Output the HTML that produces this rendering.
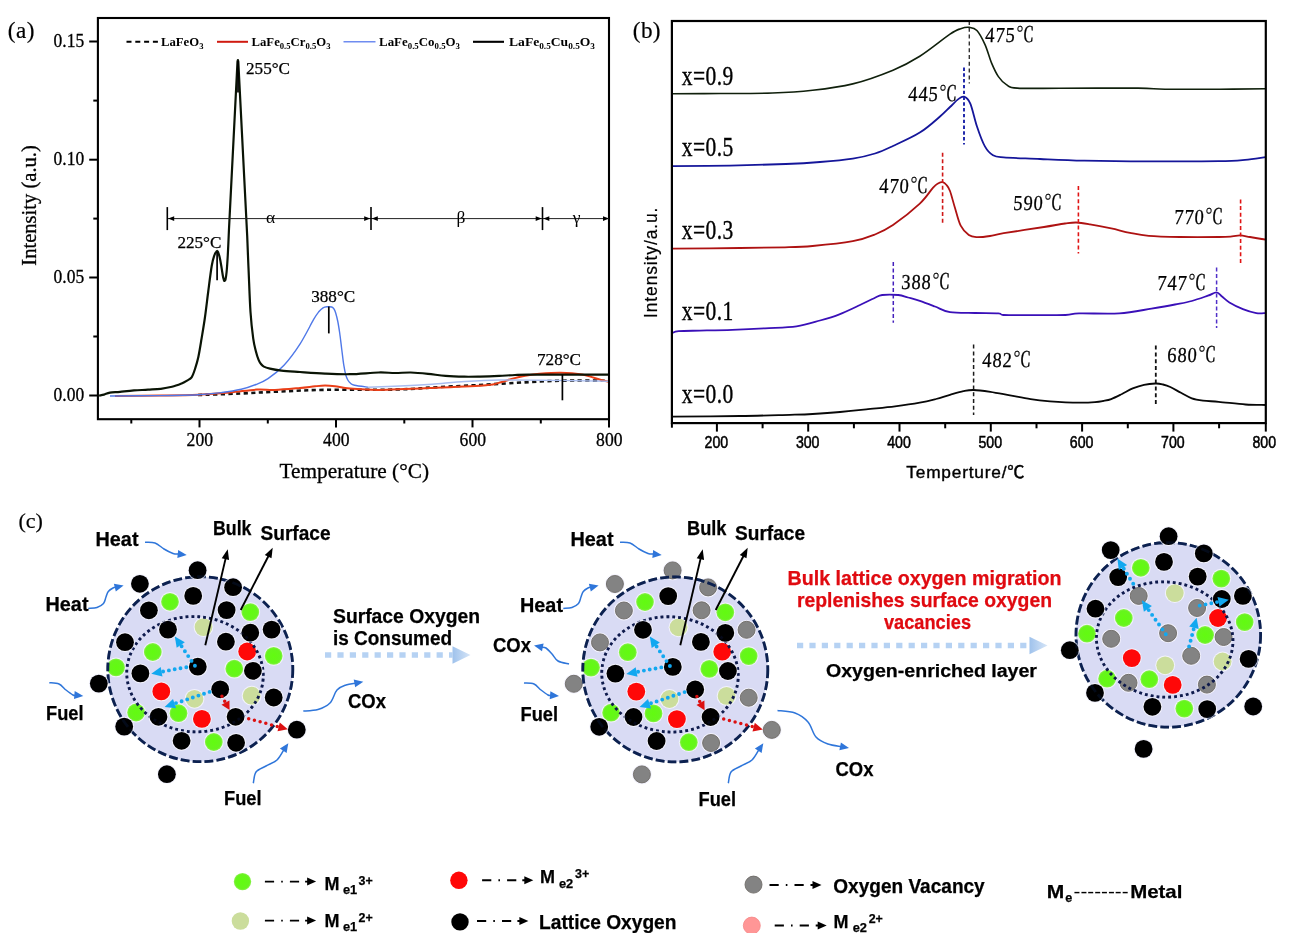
<!DOCTYPE html>
<html lang="en"><head><meta charset="utf-8"><title>Figure</title>
<style>html,body{margin:0;padding:0;background:#fff}body{width:1299px;height:933px;overflow:hidden}svg{display:block}</style>
</head><body>
<svg width="1299" height="933" viewBox="0 0 1299 933">
<defs><radialGradient id="gg" cx="50%" cy="50%" r="50%"><stop offset="0" stop-color="#62fb10"/><stop offset="0.8" stop-color="#66f51c"/><stop offset="1" stop-color="#8cf050"/></radialGradient>
<linearGradient id="ag" x1="0" x2="1" y1="0" y2="0"><stop offset="0" stop-color="#9fc2ec"/><stop offset="1" stop-color="#d6e5f7"/></linearGradient></defs>
<rect width="1299" height="933" fill="#fff"/>
<g id="pa">
<path d="M198.0 395.0C205.0 394.8 226.3 394.1 240.0 393.5C253.7 392.9 265.8 392.1 280.0 391.5C294.2 390.9 308.7 390.1 325.0 389.8C341.3 389.5 363.8 389.9 378.0 389.8C392.2 389.7 401.0 389.4 410.0 389.0C419.0 388.6 422.0 388.1 432.0 387.5C442.0 386.9 458.7 386.1 470.0 385.5C481.3 384.9 488.3 384.5 500.0 383.8C511.7 383.1 527.5 382.1 540.0 381.5C552.5 380.9 563.5 380.6 575.0 380.5C586.5 380.4 603.3 380.8 609.0 380.8" fill="none" stroke="#111" stroke-width="2.6" stroke-dasharray="4.2 3.4"/>
<path d="M115.0 396.0C122.5 395.9 146.2 395.7 160.0 395.5C173.8 395.3 186.3 395.2 198.0 394.7C209.7 394.2 220.2 393.4 230.0 392.5C239.8 391.6 249.5 390.0 257.0 389.6C264.5 389.2 267.8 390.3 275.0 390.0C282.2 389.7 293.3 388.6 300.0 388.0C306.7 387.4 310.8 386.7 315.0 386.3C319.2 385.9 321.7 385.6 325.0 385.6C328.3 385.6 330.8 385.8 335.0 386.3C339.2 386.8 342.7 387.9 350.0 388.5C357.3 389.1 364.9 390.0 378.6 389.9C392.3 389.8 414.1 388.8 432.0 388.0C449.9 387.2 474.7 386.2 486.0 385.3C497.3 384.4 495.6 383.6 500.0 382.5C504.4 381.4 508.4 379.7 512.6 378.6C516.8 377.5 520.5 376.6 525.0 375.8C529.5 375.0 533.4 374.3 539.4 373.8C545.4 373.3 553.7 372.6 560.8 372.7C567.9 372.8 575.3 373.4 582.0 374.6C588.7 375.8 596.5 378.8 601.0 380.0C605.5 381.2 607.7 381.5 609.0 381.8" fill="none" stroke="#ea3f18" stroke-width="2"/>
<path d="M110.0 396.0C118.3 395.9 145.3 395.8 160.0 395.6C174.7 395.4 188.0 395.2 198.3 394.7C208.6 394.2 214.8 393.4 222.0 392.5C229.2 391.6 235.5 390.6 241.2 389.3C246.9 388.0 251.5 386.3 256.0 384.5C260.5 382.7 263.3 381.8 268.0 378.6C272.7 375.4 278.6 371.0 284.0 365.2C289.4 359.4 295.2 351.4 300.1 343.8C305.0 336.2 310.4 325.1 313.5 319.7C316.6 314.3 317.4 313.5 319.0 311.5C320.6 309.5 321.7 308.6 323.0 307.8C324.3 307.0 325.6 306.9 327.0 306.8C328.4 306.7 330.5 306.6 331.7 307.0C332.9 307.4 333.3 308.0 334.0 309.0C334.7 310.0 335.1 311.0 335.7 313.0C336.3 315.0 337.0 317.7 337.7 321.0C338.4 324.3 339.0 328.3 339.7 333.0C340.4 337.7 341.0 343.6 341.7 349.0C342.4 354.4 343.1 360.9 343.8 365.2C344.5 369.5 345.1 372.5 345.8 375.0C346.5 377.5 347.0 378.6 347.8 380.0C348.6 381.4 349.7 382.6 350.8 383.5C351.9 384.4 351.6 384.7 354.5 385.3C357.4 385.9 365.7 386.9 367.9 387.2" fill="none" stroke="#4f78e8" stroke-width="1.4"/>
<path d="M367.9 387.2C373.2 387.0 389.3 386.5 400.0 386.0C410.7 385.5 421.2 384.9 432.0 384.2C442.8 383.4 453.8 382.2 465.0 381.5C476.2 380.8 486.5 380.2 499.0 380.0C511.5 379.8 521.7 380.0 540.0 380.2C558.3 380.4 597.5 381.1 609.0 381.3" fill="none" stroke="#a9bdf0" stroke-width="1.4"/>
<path d="M99.1 395.6C99.9 395.4 102.2 395.1 104.0 394.6C105.8 394.1 107.2 393.1 109.9 392.6C112.6 392.1 116.0 392.2 120.0 391.8C124.0 391.4 129.3 390.8 134.0 390.4C138.7 390.0 143.5 390.0 148.0 389.7C152.5 389.4 156.8 389.3 160.8 388.8C164.8 388.3 168.4 387.7 172.0 386.8C175.6 385.9 179.7 384.2 182.2 383.2C184.7 382.2 185.4 381.6 187.0 380.6C188.6 379.6 190.3 379.2 191.6 377.3C192.9 375.4 193.9 372.4 195.0 369.0C196.1 365.6 197.2 362.2 198.3 357.2C199.4 352.2 200.4 345.7 201.5 339.0C202.6 332.3 203.9 325.0 205.0 317.0C206.1 309.0 207.2 299.5 208.3 291.0C209.4 282.5 210.7 271.9 211.7 266.0C212.7 260.1 213.5 257.9 214.3 255.5C215.1 253.1 215.9 252.3 216.4 251.6C216.9 250.8 217.1 251.1 217.2 251.0C217.3 251.1 217.6 250.8 218.0 251.8C218.4 252.8 219.0 254.6 219.6 257.0C220.2 259.4 220.8 262.9 221.3 266.0C221.8 269.1 222.4 273.1 222.8 275.5C223.2 277.9 223.7 279.4 224.0 280.3C224.3 281.2 224.4 280.9 224.7 280.8C224.9 280.7 225.2 281.0 225.5 279.5C225.8 278.0 226.2 276.1 226.6 272.0C227.0 267.9 227.4 262.2 227.8 255.0C228.2 247.8 228.8 233.1 229.0 228.7L237.5 61.5L237.9 60L238.3 61.5L247.2 236C247.4 241.3 247.9 255.3 248.5 268.0C249.1 280.7 249.7 300.3 250.5 312.0C251.3 323.7 252.3 331.9 253.2 338.4C254.1 344.9 254.9 347.4 255.8 351.0C256.7 354.6 257.7 357.7 258.6 359.9C259.5 362.1 260.1 362.9 261.0 364.0C261.9 365.1 262.4 365.8 263.9 366.6C265.4 367.4 267.1 367.9 270.0 368.6C272.9 369.3 276.4 370.0 281.4 370.6C286.4 371.2 292.7 371.5 300.0 372.0C307.3 372.5 316.7 373.2 325.0 373.6C333.3 374.0 341.1 374.4 350.0 374.2C358.9 374.0 371.1 372.7 378.6 372.5C386.1 372.3 389.6 373.0 395.0 373.0C400.4 373.0 405.2 372.4 410.7 372.5C416.2 372.6 422.2 373.2 428.0 373.8C433.8 374.4 439.6 375.4 445.6 375.9C451.7 376.4 458.6 376.6 464.3 376.7C470.0 376.8 474.2 376.7 480.0 376.6C485.8 376.5 493.4 376.2 499.2 375.9C505.0 375.6 510.1 375.2 515.0 375.0C519.9 374.8 521.1 374.7 528.6 374.6C536.1 374.5 546.6 374.6 560.0 374.6C573.4 374.6 600.8 374.6 609.0 374.6" fill="none" stroke="#0a1405" stroke-width="2.2" stroke-linejoin="round"/>
<line x1="238.0" y1="61.0" x2="238.0" y2="92.5" stroke="#000" stroke-width="1.7"/>
<line x1="217.1" y1="252.0" x2="217.1" y2="280.3" stroke="#000" stroke-width="1.7"/>
<line x1="328.8" y1="306.5" x2="328.8" y2="333.4" stroke="#000" stroke-width="1.7"/>
<line x1="562.4" y1="374.5" x2="562.4" y2="400.3" stroke="#000" stroke-width="1.7"/>
<rect x="97.9" y="18.0" width="511.1" height="401.2" fill="none" stroke="#000" stroke-width="2.1"/>
<line x1="89.2" y1="41.5" x2="97.9" y2="41.5" stroke="#000" stroke-width="2"/>
<line x1="89.2" y1="159.7" x2="97.9" y2="159.7" stroke="#000" stroke-width="2"/>
<line x1="89.2" y1="277.5" x2="97.9" y2="277.5" stroke="#000" stroke-width="2"/>
<line x1="89.2" y1="395.5" x2="97.9" y2="395.5" stroke="#000" stroke-width="2"/>
<line x1="93.3" y1="100.6" x2="97.9" y2="100.6" stroke="#000" stroke-width="2"/>
<line x1="93.3" y1="218.6" x2="97.9" y2="218.6" stroke="#000" stroke-width="2"/>
<line x1="93.3" y1="336.5" x2="97.9" y2="336.5" stroke="#000" stroke-width="2"/>
<line x1="199.5" y1="419.2" x2="199.5" y2="427.4" stroke="#000" stroke-width="2"/>
<line x1="336.0" y1="419.2" x2="336.0" y2="427.4" stroke="#000" stroke-width="2"/>
<line x1="472.5" y1="419.2" x2="472.5" y2="427.4" stroke="#000" stroke-width="2"/>
<line x1="609.0" y1="419.2" x2="609.0" y2="427.4" stroke="#000" stroke-width="2"/>
<line x1="131.3" y1="419.2" x2="131.3" y2="423.5" stroke="#000" stroke-width="2"/>
<line x1="267.8" y1="419.2" x2="267.8" y2="423.5" stroke="#000" stroke-width="2"/>
<line x1="404.3" y1="419.2" x2="404.3" y2="423.5" stroke="#000" stroke-width="2"/>
<line x1="540.8" y1="419.2" x2="540.8" y2="423.5" stroke="#000" stroke-width="2"/>
<text x="53.6" y="47.1" font-family='"Liberation Serif","Noto Serif CJK SC",serif' font-size="18.8" textLength="30.6" lengthAdjust="spacingAndGlyphs" stroke="#000" stroke-width="0.3">0.15</text>
<text x="53.6" y="165.3" font-family='"Liberation Serif","Noto Serif CJK SC",serif' font-size="18.8" textLength="30.6" lengthAdjust="spacingAndGlyphs" stroke="#000" stroke-width="0.3">0.10</text>
<text x="53.6" y="283.1" font-family='"Liberation Serif","Noto Serif CJK SC",serif' font-size="18.8" textLength="30.6" lengthAdjust="spacingAndGlyphs" stroke="#000" stroke-width="0.3">0.05</text>
<text x="53.6" y="401.1" font-family='"Liberation Serif","Noto Serif CJK SC",serif' font-size="18.8" textLength="30.6" lengthAdjust="spacingAndGlyphs" stroke="#000" stroke-width="0.3">0.00</text>
<text x="186.6" y="446" font-family='"Liberation Serif","Noto Serif CJK SC",serif' font-size="18.8" textLength="26.4" lengthAdjust="spacingAndGlyphs" stroke="#000" stroke-width="0.3">200</text>
<text x="323.1" y="446" font-family='"Liberation Serif","Noto Serif CJK SC",serif' font-size="18.8" textLength="26.4" lengthAdjust="spacingAndGlyphs" stroke="#000" stroke-width="0.3">400</text>
<text x="459.6" y="446" font-family='"Liberation Serif","Noto Serif CJK SC",serif' font-size="18.8" textLength="26.4" lengthAdjust="spacingAndGlyphs" stroke="#000" stroke-width="0.3">600</text>
<text x="596.1" y="446" font-family='"Liberation Serif","Noto Serif CJK SC",serif' font-size="18.8" textLength="26.4" lengthAdjust="spacingAndGlyphs" stroke="#000" stroke-width="0.3">800</text>
<text x="279.5" y="477.5" font-family='"Liberation Serif","Noto Serif CJK SC",serif' font-size="20.8" textLength="149.5" lengthAdjust="spacingAndGlyphs" stroke="#000" stroke-width="0.3">Temperature (°C)</text>
<text transform="translate(36.3,265.7) rotate(-90)" font-family='"Liberation Serif","Noto Serif CJK SC",serif' font-size="20.5" textLength="120.5" lengthAdjust="spacingAndGlyphs" stroke="#000" stroke-width="0.3">Intensity (a.u.)</text>
<text x="7.8" y="37.6" font-family='"Liberation Serif","Noto Serif CJK SC",serif' font-size="23.2" textLength="26.6" lengthAdjust="spacing" stroke="#000" stroke-width="0.2">(a)</text>
<line x1="126.5" y1="41.8" x2="159" y2="41.8" stroke="#000" stroke-width="2.1" stroke-dasharray="5 3.8"/>
<line x1="217" y1="41.8" x2="248" y2="41.8" stroke="#d01a10" stroke-width="2"/>
<line x1="343.5" y1="41.8" x2="375.5" y2="41.8" stroke="#6f8cf0" stroke-width="1.4"/>
<line x1="473" y1="41.8" x2="504" y2="41.8" stroke="#000" stroke-width="2.1"/>
<text x="161.0" y="46" font-family='"Liberation Serif","Noto Serif CJK SC",serif' font-size="12.5" font-weight="bold" textLength="42.5" lengthAdjust="spacingAndGlyphs"><tspan dy="0">LaFeO</tspan><tspan font-size="8.5" dy="2.6">3</tspan></text>
<text x="251.5" y="46" font-family='"Liberation Serif","Noto Serif CJK SC",serif' font-size="12.5" font-weight="bold" textLength="79.0" lengthAdjust="spacingAndGlyphs"><tspan dy="0">LaFe</tspan><tspan font-size="8.5" dy="2.6">0.5</tspan><tspan dy="-2.6">Cr</tspan><tspan font-size="8.5" dy="2.6">0.5</tspan><tspan dy="-2.6">O</tspan><tspan font-size="8.5" dy="2.6">3</tspan></text>
<text x="379.0" y="46" font-family='"Liberation Serif","Noto Serif CJK SC",serif' font-size="12.5" font-weight="bold" textLength="81.0" lengthAdjust="spacingAndGlyphs"><tspan dy="0">LaFe</tspan><tspan font-size="8.5" dy="2.6">0.5</tspan><tspan dy="-2.6">Co</tspan><tspan font-size="8.5" dy="2.6">0.5</tspan><tspan dy="-2.6">O</tspan><tspan font-size="8.5" dy="2.6">3</tspan></text>
<text x="509.0" y="46" font-family='"Liberation Serif","Noto Serif CJK SC",serif' font-size="12.5" font-weight="bold" textLength="86.0" lengthAdjust="spacingAndGlyphs"><tspan dy="0">LaFe</tspan><tspan font-size="8.5" dy="2.6">0.5</tspan><tspan dy="-2.6">Cu</tspan><tspan font-size="8.5" dy="2.6">0.5</tspan><tspan dy="-2.6">O</tspan><tspan font-size="8.5" dy="2.6">3</tspan></text>
<line x1="167.3" y1="218.6" x2="609" y2="218.6" stroke="#222" stroke-width="1"/>
<line x1="167.3" y1="207.1" x2="167.3" y2="230.1" stroke="#000" stroke-width="1.6"/>
<line x1="371.0" y1="207.1" x2="371.0" y2="230.1" stroke="#000" stroke-width="1.6"/>
<line x1="542.5" y1="207.1" x2="542.5" y2="230.1" stroke="#000" stroke-width="1.6"/>
<path d="M168.2 218.6 L174.2 216.3 L174.2 220.9 Z" fill="#000"/>
<path d="M370.2 218.6 L364.2 216.3 L364.2 220.9 Z" fill="#000"/>
<path d="M371.8 218.6 L377.8 216.3 L377.8 220.9 Z" fill="#000"/>
<path d="M541.7 218.6 L535.7 216.3 L535.7 220.9 Z" fill="#000"/>
<path d="M543.3 218.6 L549.3 216.3 L549.3 220.9 Z" fill="#000"/>
<path d="M609.0 218.6 L603.0 216.3 L603.0 220.9 Z" fill="#000"/>
<text x="270.5" y="223" text-anchor="middle" font-family='"Liberation Serif","Noto Serif CJK SC",serif' font-size="17.5">α</text>
<text x="461.0" y="223" text-anchor="middle" font-family='"Liberation Serif","Noto Serif CJK SC",serif' font-size="17.5">β</text>
<text x="576.5" y="223" text-anchor="middle" font-family='"Liberation Serif","Noto Serif CJK SC",serif' font-size="17.5">γ</text>
<text x="246.0" y="73.8" font-family='"Liberation Serif","Noto Serif CJK SC",serif' font-size="17" textLength="44" lengthAdjust="spacingAndGlyphs" stroke="#000" stroke-width="0.25">255°C</text>
<text x="177.4" y="248.0" font-family='"Liberation Serif","Noto Serif CJK SC",serif' font-size="17" textLength="44" lengthAdjust="spacingAndGlyphs" stroke="#000" stroke-width="0.25">225°C</text>
<text x="311.2" y="301.5" font-family='"Liberation Serif","Noto Serif CJK SC",serif' font-size="17" textLength="44" lengthAdjust="spacingAndGlyphs" stroke="#000" stroke-width="0.25">388°C</text>
<text x="537.0" y="365.2" font-family='"Liberation Serif","Noto Serif CJK SC",serif' font-size="17" textLength="44" lengthAdjust="spacingAndGlyphs" stroke="#000" stroke-width="0.25">728°C</text>
</g>
<g id="pb">
<path d="M671.9 93.8C679.9 93.8 703.2 93.6 720.0 93.5C736.8 93.4 757.0 93.5 772.4 93.0C787.8 92.5 799.2 91.8 812.6 90.3C826.0 88.8 839.4 87.2 852.8 83.9C866.2 80.6 881.8 74.8 893.0 70.2C904.2 65.6 910.3 62.3 919.8 56.3C929.3 50.3 943.2 38.8 950.0 34.2C956.8 29.6 957.5 29.8 960.7 28.7C963.9 27.6 966.6 27.1 969.3 27.4C972.0 27.7 974.3 27.7 976.9 30.5C979.5 33.3 982.4 38.9 984.9 44.3C987.4 49.7 989.4 57.7 991.6 63.1C993.9 68.5 995.9 73.0 998.4 76.6C1000.9 80.2 1003.3 82.7 1006.4 84.6C1009.5 86.5 1008.3 87.5 1017.2 88.1C1026.1 88.7 1039.9 88.3 1060.0 88.3C1080.1 88.3 1120.5 87.9 1138.0 88.1C1155.5 88.2 1151.3 89.0 1165.0 89.2C1178.7 89.4 1203.2 89.3 1220.0 89.2C1236.8 89.1 1258.1 88.8 1265.7 88.7" fill="none" stroke="#10200c" stroke-width="1.6"/>
<path d="M671.9 166.1C681.6 166.0 711.0 165.9 730.0 165.6C749.0 165.2 770.8 164.6 785.8 164.0C800.8 163.4 808.8 162.9 820.0 162.0C831.2 161.1 843.6 160.0 852.8 158.6C862.0 157.2 868.3 155.6 875.0 153.5C881.7 151.4 885.5 149.5 893.0 146.0C900.5 142.5 912.0 137.5 919.8 132.6C927.6 127.7 935.0 120.8 940.0 116.5C945.0 112.2 947.0 109.8 950.0 107.0C953.0 104.2 955.7 101.1 958.0 99.4C960.3 97.7 962.0 96.0 964.0 96.7C966.0 97.4 968.1 98.5 970.2 103.4C972.4 108.3 974.5 119.1 976.9 126.3C979.3 133.5 982.2 141.6 984.9 146.4C987.6 151.2 989.9 153.5 993.0 155.3C996.1 157.1 995.9 156.8 1003.7 157.4C1011.5 158.0 1026.6 158.4 1040.0 159.0C1053.4 159.6 1066.0 160.3 1084.3 160.7C1102.6 161.1 1127.6 161.3 1150.0 161.4C1172.4 161.5 1202.9 161.5 1218.7 161.2C1234.5 160.9 1237.2 160.5 1245.0 159.8C1252.8 159.1 1262.2 157.6 1265.7 157.2" fill="none" stroke="#15169a" stroke-width="1.8"/>
<path d="M671.9 248.7C683.2 248.6 721.1 248.2 740.0 248.0C758.9 247.8 772.9 247.6 785.0 247.3C797.1 247.0 801.3 247.0 812.6 246.0C823.9 245.0 842.4 243.1 852.8 241.2C863.2 239.3 868.3 237.2 875.0 234.5C881.7 231.8 885.5 230.2 893.0 225.1C900.5 219.9 913.1 209.8 919.8 203.6C926.5 197.3 930.0 191.0 933.1 187.6C936.2 184.2 936.9 184.1 938.5 183.2C940.1 182.3 941.2 181.9 942.5 182.2C943.8 182.5 945.2 183.5 946.5 185.0C947.8 186.5 948.6 187.2 950.0 191.0C951.4 194.8 953.2 202.2 955.0 208.0C956.8 213.8 958.4 221.2 960.7 225.7C963.0 230.2 966.1 233.2 968.8 235.1C971.5 237.0 973.4 237.0 976.9 237.2C980.4 237.3 985.5 236.7 990.0 236.0C994.5 235.3 994.7 234.7 1003.7 233.2C1012.7 231.7 1033.8 228.6 1044.0 227.0C1054.2 225.4 1059.6 224.2 1065.0 223.5C1070.4 222.8 1072.1 222.4 1076.3 222.5C1080.5 222.6 1084.2 223.3 1090.0 224.3C1095.8 225.3 1104.5 227.0 1111.2 228.4C1117.9 229.8 1123.7 231.6 1130.0 232.8C1136.3 234.1 1140.5 235.2 1148.8 235.9C1157.1 236.6 1168.3 236.8 1180.0 237.0C1191.7 237.2 1210.0 237.1 1218.7 237.0C1227.4 236.9 1228.4 236.7 1232.0 236.4C1235.6 236.1 1237.2 235.3 1240.2 235.4C1243.2 235.5 1245.8 236.3 1250.0 237.0C1254.2 237.7 1263.1 239.2 1265.7 239.7" fill="none" stroke="#ae1212" stroke-width="1.8"/>
<path d="M671.9 333.1C673.0 332.8 673.9 331.6 678.6 331.2C683.3 330.8 691.1 330.8 700.0 330.6C708.9 330.4 721.4 330.2 732.2 329.8C743.0 329.4 754.3 328.9 765.0 328.3C775.7 327.7 787.3 327.7 796.5 326.4C805.7 325.1 812.9 322.5 820.0 320.5C827.1 318.5 832.7 316.9 839.4 314.3C846.1 311.7 854.2 307.7 860.0 305.0C865.8 302.3 870.5 299.9 874.2 298.2C877.9 296.5 878.2 295.5 882.2 295.0C886.2 294.5 894.0 294.6 898.3 295.0C902.6 295.4 904.4 296.5 908.0 297.5C911.6 298.5 915.3 299.4 919.8 300.9C924.3 302.4 930.0 304.6 935.0 306.5C940.0 308.4 943.3 311.1 950.0 312.2C956.7 313.3 966.9 312.8 975.0 313.0C983.1 313.2 993.6 313.1 998.4 313.4C1003.2 313.7 998.4 314.7 1003.7 315.0C1009.0 315.3 1019.7 315.2 1030.0 315.2C1040.3 315.2 1057.3 315.3 1065.5 315.0C1073.7 314.7 1070.0 313.7 1079.0 313.4C1088.0 313.1 1107.2 314.2 1119.3 313.4C1131.4 312.6 1142.2 310.1 1151.5 308.6C1160.8 307.1 1168.3 305.8 1175.0 304.5C1181.7 303.2 1186.3 302.5 1191.8 301.0C1197.3 299.5 1203.8 297.1 1207.9 295.7C1212.0 294.3 1214.2 292.3 1216.5 292.4C1218.8 292.5 1219.8 294.8 1222.0 296.5C1224.2 298.2 1225.9 300.3 1229.4 302.4C1232.9 304.5 1238.4 307.3 1242.9 309.1C1247.4 310.9 1252.5 312.4 1256.3 313.1C1260.1 313.8 1264.1 313.1 1265.7 313.1" fill="none" stroke="#3a10b8" stroke-width="1.8"/>
<path d="M671.9 416.7C683.2 416.6 720.3 416.3 740.0 416.0C759.7 415.7 777.9 415.1 790.0 414.8C802.1 414.5 804.3 414.5 812.6 414.0C820.9 413.5 831.1 412.8 840.0 412.0C848.9 411.2 857.0 410.3 866.2 409.4C875.4 408.4 886.1 407.4 895.0 406.3C903.9 405.2 913.0 403.9 919.8 402.7C926.6 401.5 931.0 400.3 936.0 399.0C941.0 397.7 945.4 396.1 950.0 394.8C954.6 393.5 959.5 392.0 963.4 391.2C967.3 390.4 969.1 389.9 973.6 390.0C978.1 390.1 984.2 391.0 990.3 391.9C996.4 392.8 1003.3 394.2 1010.0 395.4C1016.7 396.6 1023.9 398.1 1030.6 399.1C1037.3 400.1 1044.2 400.8 1050.0 401.3C1055.8 401.8 1060.5 402.1 1065.5 402.3C1070.5 402.5 1075.1 402.6 1080.0 402.6C1084.9 402.6 1091.2 402.4 1095.0 402.1C1098.8 401.8 1100.3 401.5 1103.0 401.0C1105.7 400.5 1108.0 400.3 1111.2 399.1C1114.4 397.9 1118.4 395.8 1122.0 394.0C1125.6 392.2 1129.0 389.9 1132.7 388.4C1136.4 386.9 1140.2 385.6 1144.0 384.8C1147.8 384.0 1152.3 383.6 1155.5 383.5C1158.7 383.4 1160.5 383.9 1163.0 384.5C1165.5 385.1 1167.3 385.6 1170.3 387.0C1173.3 388.4 1177.4 390.9 1181.0 392.8C1184.6 394.7 1188.1 397.0 1191.8 398.3C1195.5 399.6 1198.5 400.0 1203.0 400.6C1207.5 401.2 1211.6 401.2 1218.7 401.8C1225.8 402.4 1237.7 404.0 1245.5 404.5C1253.3 405.0 1262.3 404.9 1265.7 405.0" fill="none" stroke="#080808" stroke-width="1.8"/>
<line x1="969.3" y1="21.0" x2="969.3" y2="83.5" stroke="#333" stroke-width="1.4" stroke-dasharray="4 2.8"/>
<line x1="964.0" y1="67.5" x2="964.0" y2="144.5" stroke="#1a22a8" stroke-width="1.9" stroke-dasharray="3.4 2.4"/>
<line x1="942.6" y1="152.7" x2="942.6" y2="224.0" stroke="#d01818" stroke-width="1.6" stroke-dasharray="4 2.6"/>
<line x1="1078.4" y1="186.0" x2="1078.4" y2="253.5" stroke="#e01414" stroke-width="1.6" stroke-dasharray="4 2.6"/>
<line x1="1240.6" y1="199.5" x2="1240.6" y2="263.0" stroke="#e01414" stroke-width="1.6" stroke-dasharray="4 2.6"/>
<line x1="893.3" y1="262.0" x2="893.3" y2="322.8" stroke="#4420bc" stroke-width="1.5" stroke-dasharray="4 2.5"/>
<line x1="1216.6" y1="267.5" x2="1216.6" y2="328.0" stroke="#5030c8" stroke-width="1.5" stroke-dasharray="4 2.5"/>
<line x1="973.6" y1="344.6" x2="973.6" y2="415.0" stroke="#1a1a1a" stroke-width="1.5" stroke-dasharray="4 2.8"/>
<line x1="1155.8" y1="345.6" x2="1155.8" y2="406.0" stroke="#111" stroke-width="1.8" stroke-dasharray="4 2.8"/>
<rect x="671.9" y="21.0" width="593.9" height="402.1" fill="none" stroke="#000" stroke-width="2.2"/>
<line x1="671.9" y1="423.1" x2="671.9" y2="427.7" stroke="#000" stroke-width="2"/>
<line x1="716.9" y1="423.1" x2="716.9" y2="431.6" stroke="#000" stroke-width="2"/>
<line x1="762.6" y1="423.1" x2="762.6" y2="428.3" stroke="#000" stroke-width="2"/>
<line x1="808.2" y1="423.1" x2="808.2" y2="431.6" stroke="#000" stroke-width="2"/>
<line x1="853.9" y1="423.1" x2="853.9" y2="428.3" stroke="#000" stroke-width="2"/>
<line x1="899.5" y1="423.1" x2="899.5" y2="431.6" stroke="#000" stroke-width="2"/>
<line x1="945.2" y1="423.1" x2="945.2" y2="428.3" stroke="#000" stroke-width="2"/>
<line x1="990.8" y1="423.1" x2="990.8" y2="431.6" stroke="#000" stroke-width="2"/>
<line x1="1036.5" y1="423.1" x2="1036.5" y2="428.3" stroke="#000" stroke-width="2"/>
<line x1="1082.1" y1="423.1" x2="1082.1" y2="431.6" stroke="#000" stroke-width="2"/>
<line x1="1127.8" y1="423.1" x2="1127.8" y2="428.3" stroke="#000" stroke-width="2"/>
<line x1="1173.4" y1="423.1" x2="1173.4" y2="431.6" stroke="#000" stroke-width="2"/>
<line x1="1219.1" y1="423.1" x2="1219.1" y2="428.3" stroke="#000" stroke-width="2"/>
<line x1="1265.8" y1="423.1" x2="1265.8" y2="431.6" stroke="#000" stroke-width="2"/>
<text x="704.6" y="447.7" font-family='"Liberation Sans","Noto Sans CJK SC",sans-serif' font-size="15.8" textLength="23.6" lengthAdjust="spacingAndGlyphs" stroke="#000" stroke-width="0.5">200</text>
<text x="795.9" y="447.7" font-family='"Liberation Sans","Noto Sans CJK SC",sans-serif' font-size="15.8" textLength="23.6" lengthAdjust="spacingAndGlyphs" stroke="#000" stroke-width="0.5">300</text>
<text x="887.2" y="447.7" font-family='"Liberation Sans","Noto Sans CJK SC",sans-serif' font-size="15.8" textLength="23.6" lengthAdjust="spacingAndGlyphs" stroke="#000" stroke-width="0.5">400</text>
<text x="978.5" y="447.7" font-family='"Liberation Sans","Noto Sans CJK SC",sans-serif' font-size="15.8" textLength="23.6" lengthAdjust="spacingAndGlyphs" stroke="#000" stroke-width="0.5">500</text>
<text x="1069.8" y="447.7" font-family='"Liberation Sans","Noto Sans CJK SC",sans-serif' font-size="15.8" textLength="23.6" lengthAdjust="spacingAndGlyphs" stroke="#000" stroke-width="0.5">600</text>
<text x="1161.1" y="447.7" font-family='"Liberation Sans","Noto Sans CJK SC",sans-serif' font-size="15.8" textLength="23.6" lengthAdjust="spacingAndGlyphs" stroke="#000" stroke-width="0.5">700</text>
<text x="1252.5" y="447.7" font-family='"Liberation Sans","Noto Sans CJK SC",sans-serif' font-size="15.8" textLength="23.6" lengthAdjust="spacingAndGlyphs" stroke="#000" stroke-width="0.5">800</text>
<text x="906.3" y="477.8" font-family='"Liberation Sans","Noto Sans CJK SC",sans-serif' font-size="17.3" textLength="118.3" lengthAdjust="spacing" stroke="#000" stroke-width="0.4">Temperture/℃</text>
<text transform="translate(656.5,318) rotate(-90)" font-family='"Liberation Sans","Noto Sans CJK SC",sans-serif' font-size="17.5" textLength="110.5" lengthAdjust="spacing" stroke="#000" stroke-width="0.2">Intensity/a.u.</text>
<text x="632.8" y="38.3" font-family='"Liberation Serif","Noto Serif CJK SC",serif' font-size="23.2" textLength="27.8" lengthAdjust="spacing" stroke="#000" stroke-width="0.2">(b)</text>
<text transform="translate(681.7,84.8) scale(1,1.23)" font-family='"Liberation Serif","Noto Serif CJK SC",serif' font-size="21.5" textLength="51.6" lengthAdjust="spacing" stroke="#000" stroke-width="0.3">x=0.9</text>
<text transform="translate(681.7,155.8) scale(1,1.23)" font-family='"Liberation Serif","Noto Serif CJK SC",serif' font-size="21.5" textLength="51.6" lengthAdjust="spacing" stroke="#000" stroke-width="0.3">x=0.5</text>
<text transform="translate(681.7,238.8) scale(1,1.23)" font-family='"Liberation Serif","Noto Serif CJK SC",serif' font-size="21.5" textLength="51.6" lengthAdjust="spacing" stroke="#000" stroke-width="0.3">x=0.3</text>
<text transform="translate(681.7,320.3) scale(1,1.23)" font-family='"Liberation Serif","Noto Serif CJK SC",serif' font-size="21.5" textLength="51.6" lengthAdjust="spacing" stroke="#000" stroke-width="0.3">x=0.1</text>
<text transform="translate(681.7,402.8) scale(1,1.23)" font-family='"Liberation Serif","Noto Serif CJK SC",serif' font-size="21.5" textLength="51.6" lengthAdjust="spacing" stroke="#000" stroke-width="0.3">x=0.0</text>
<text transform="translate(985.0,42.1) scale(1,1.15) skewX(-3)" font-family='"Liberation Serif","Noto Serif CJK SC",serif' font-size="18.5" textLength="49" lengthAdjust="spacing" stroke="#000" stroke-width="0.25">475℃</text>
<text transform="translate(908.0,100.6) scale(1,1.15) skewX(-3)" font-family='"Liberation Serif","Noto Serif CJK SC",serif' font-size="18.5" textLength="49" lengthAdjust="spacing" stroke="#000" stroke-width="0.25">445℃</text>
<text transform="translate(879.0,192.6) scale(1,1.15) skewX(-3)" font-family='"Liberation Serif","Noto Serif CJK SC",serif' font-size="18.5" textLength="49" lengthAdjust="spacing" stroke="#000" stroke-width="0.25">470℃</text>
<text transform="translate(1013.0,209.6) scale(1,1.15) skewX(-3)" font-family='"Liberation Serif","Noto Serif CJK SC",serif' font-size="18.5" textLength="49" lengthAdjust="spacing" stroke="#000" stroke-width="0.25">590℃</text>
<text transform="translate(1174.0,223.6) scale(1,1.15) skewX(-3)" font-family='"Liberation Serif","Noto Serif CJK SC",serif' font-size="18.5" textLength="49" lengthAdjust="spacing" stroke="#000" stroke-width="0.25">770℃</text>
<text transform="translate(901.0,289.1) scale(1,1.15) skewX(-3)" font-family='"Liberation Serif","Noto Serif CJK SC",serif' font-size="18.5" textLength="49" lengthAdjust="spacing" stroke="#000" stroke-width="0.25">388℃</text>
<text transform="translate(1157.0,289.6) scale(1,1.15) skewX(-3)" font-family='"Liberation Serif","Noto Serif CJK SC",serif' font-size="18.5" textLength="49" lengthAdjust="spacing" stroke="#000" stroke-width="0.25">747℃</text>
<text transform="translate(982.0,366.6) scale(1,1.15) skewX(-3)" font-family='"Liberation Serif","Noto Serif CJK SC",serif' font-size="18.5" textLength="49" lengthAdjust="spacing" stroke="#000" stroke-width="0.25">482℃</text>
<text transform="translate(1167.0,361.6) scale(1,1.15) skewX(-3)" font-family='"Liberation Serif","Noto Serif CJK SC",serif' font-size="18.5" textLength="49" lengthAdjust="spacing" stroke="#000" stroke-width="0.25">680℃</text>
</g>
<g id="pc">
<text x="18.5" y="527.5" font-family='"Liberation Serif","Noto Serif CJK SC",serif' font-size="22" stroke="#000" stroke-width="0.2">(c)</text>
<circle cx="200.3" cy="669.2" r="92.5" fill="#d9dbf4"/>
<circle cx="203.5" cy="627.1" r="9.9" fill="#f3f3fd"/>
<circle cx="203.5" cy="627.1" r="8.9" fill="#cbdd9c"/>
<circle cx="194.5" cy="698.8" r="9.9" fill="#f3f3fd"/>
<circle cx="194.5" cy="698.8" r="8.9" fill="#cbdd9c"/>
<circle cx="251.6" cy="695.7" r="9.9" fill="#f3f3fd"/>
<circle cx="251.6" cy="695.7" r="8.9" fill="#cbdd9c"/>
<circle cx="170.0" cy="601.8" r="9.9" fill="#f3f3fd"/>
<circle cx="170.0" cy="601.8" r="8.9" fill="url(#gg)"/>
<circle cx="250.3" cy="612.1" r="9.9" fill="#f3f3fd"/>
<circle cx="250.3" cy="612.1" r="8.9" fill="url(#gg)"/>
<circle cx="152.8" cy="652.0" r="9.9" fill="#f3f3fd"/>
<circle cx="152.8" cy="652.0" r="8.9" fill="url(#gg)"/>
<circle cx="273.7" cy="655.9" r="9.9" fill="#f3f3fd"/>
<circle cx="273.7" cy="655.9" r="8.9" fill="url(#gg)"/>
<circle cx="116.0" cy="667.4" r="9.9" fill="#f3f3fd"/>
<circle cx="116.0" cy="667.4" r="8.9" fill="url(#gg)"/>
<circle cx="234.3" cy="668.7" r="9.9" fill="#f3f3fd"/>
<circle cx="234.3" cy="668.7" r="8.9" fill="url(#gg)"/>
<circle cx="136.1" cy="712.5" r="9.9" fill="#f3f3fd"/>
<circle cx="136.1" cy="712.5" r="8.9" fill="url(#gg)"/>
<circle cx="178.5" cy="713.2" r="9.9" fill="#f3f3fd"/>
<circle cx="178.5" cy="713.2" r="8.9" fill="url(#gg)"/>
<circle cx="213.8" cy="742.0" r="9.9" fill="#f3f3fd"/>
<circle cx="213.8" cy="742.0" r="8.9" fill="url(#gg)"/>
<circle cx="247.2" cy="651.5" r="9.9" fill="#f3f3fd"/>
<circle cx="247.2" cy="651.5" r="8.9" fill="#ff0808"/>
<circle cx="161.3" cy="691.4" r="9.9" fill="#f3f3fd"/>
<circle cx="161.3" cy="691.4" r="8.9" fill="#ff0808"/>
<circle cx="201.9" cy="718.9" r="9.9" fill="#f3f3fd"/>
<circle cx="201.9" cy="718.9" r="8.9" fill="#ff0808"/>
<g opacity="1"><circle cx="200.3" cy="669.2" r="92.5" fill="none" stroke="#0c2150" stroke-width="2.8" stroke-dasharray="8.8 3.2"/>
<ellipse cx="195.0" cy="674.2" rx="68.3" ry="57.6" transform="rotate(4 195.0 674.2)" fill="none" stroke="#0e1a4c" stroke-width="2.8" stroke-dasharray="2.8 3.1"/></g>
<circle cx="197.6" cy="570.2" r="9.9" fill="#f3f3fd"/>
<circle cx="197.6" cy="570.2" r="8.9" fill="#000"/>
<circle cx="139.9" cy="583.8" r="9.9" fill="#f3f3fd"/>
<circle cx="139.9" cy="583.8" r="8.9" fill="#000"/>
<circle cx="233.1" cy="587.2" r="9.9" fill="#f3f3fd"/>
<circle cx="233.1" cy="587.2" r="8.9" fill="#000"/>
<circle cx="193.2" cy="595.9" r="9.9" fill="#f3f3fd"/>
<circle cx="193.2" cy="595.9" r="8.9" fill="#000"/>
<circle cx="148.9" cy="610.3" r="9.9" fill="#f3f3fd"/>
<circle cx="148.9" cy="610.3" r="8.9" fill="#000"/>
<circle cx="226.6" cy="610.1" r="9.9" fill="#f3f3fd"/>
<circle cx="226.6" cy="610.1" r="8.9" fill="#000"/>
<circle cx="168.0" cy="629.6" r="9.9" fill="#f3f3fd"/>
<circle cx="168.0" cy="629.6" r="8.9" fill="#000"/>
<circle cx="250.3" cy="632.7" r="9.9" fill="#f3f3fd"/>
<circle cx="250.3" cy="632.7" r="8.9" fill="#000"/>
<circle cx="271.6" cy="629.6" r="9.9" fill="#f3f3fd"/>
<circle cx="271.6" cy="629.6" r="8.9" fill="#000"/>
<circle cx="125.0" cy="642.2" r="9.9" fill="#f3f3fd"/>
<circle cx="125.0" cy="642.2" r="8.9" fill="#000"/>
<circle cx="225.9" cy="641.7" r="9.9" fill="#f3f3fd"/>
<circle cx="225.9" cy="641.7" r="8.9" fill="#000"/>
<circle cx="197.8" cy="666.7" r="9.9" fill="#f3f3fd"/>
<circle cx="197.8" cy="666.7" r="8.9" fill="#000"/>
<circle cx="140.4" cy="673.4" r="9.9" fill="#f3f3fd"/>
<circle cx="140.4" cy="673.4" r="8.9" fill="#000"/>
<circle cx="252.9" cy="670.8" r="9.9" fill="#f3f3fd"/>
<circle cx="252.9" cy="670.8" r="8.9" fill="#000"/>
<circle cx="98.8" cy="683.6" r="9.9" fill="#f3f3fd"/>
<circle cx="98.8" cy="683.6" r="8.9" fill="#000"/>
<circle cx="220.2" cy="689.3" r="9.9" fill="#f3f3fd"/>
<circle cx="220.2" cy="689.3" r="8.9" fill="#000"/>
<circle cx="273.7" cy="697.5" r="9.9" fill="#f3f3fd"/>
<circle cx="273.7" cy="697.5" r="8.9" fill="#000"/>
<circle cx="158.5" cy="716.8" r="9.9" fill="#f3f3fd"/>
<circle cx="158.5" cy="716.8" r="8.9" fill="#000"/>
<circle cx="235.6" cy="716.8" r="9.9" fill="#f3f3fd"/>
<circle cx="235.6" cy="716.8" r="8.9" fill="#000"/>
<circle cx="124.2" cy="726.6" r="9.9" fill="#f3f3fd"/>
<circle cx="124.2" cy="726.6" r="8.9" fill="#000"/>
<circle cx="296.8" cy="729.7" r="9.9" fill="#f3f3fd"/>
<circle cx="296.8" cy="729.7" r="8.9" fill="#000"/>
<circle cx="181.6" cy="740.8" r="9.9" fill="#f3f3fd"/>
<circle cx="181.6" cy="740.8" r="8.9" fill="#000"/>
<circle cx="236.1" cy="742.8" r="9.9" fill="#f3f3fd"/>
<circle cx="236.1" cy="742.8" r="8.9" fill="#000"/>
<circle cx="166.9" cy="774.2" r="9.9" fill="#f3f3fd"/>
<circle cx="166.9" cy="774.2" r="8.9" fill="#000"/>
<g opacity="0.3"><circle cx="200.3" cy="669.2" r="92.5" fill="none" stroke="#0c2150" stroke-width="2.8" stroke-dasharray="8.8 3.2"/>
<ellipse cx="195.0" cy="674.2" rx="68.3" ry="57.6" transform="rotate(4 195.0 674.2)" fill="none" stroke="#0e1a4c" stroke-width="2.8" stroke-dasharray="2.8 3.1"/></g>
<line x1="205.3" y1="645.2" x2="225.7" y2="558.1" stroke="#000" stroke-width="1.9"/>
<path d="M227.7 549.3 L229.1 559.9 L221.7 558.2 Z" fill="#000"/>
<line x1="240.7" y1="610.0" x2="268.6" y2="555.7" stroke="#000" stroke-width="1.9"/>
<path d="M272.7 547.7 L271.5 558.3 L264.8 554.9 Z" fill="#000"/>
<path d="M181.6 646.3h.01M184.9 651.2h.01M188.2 656.1h.01M191.5 660.9h.01M194.9 665.8h.01" stroke="#12a8f0" stroke-width="3.9" stroke-linecap="round" fill="none"/>
<path d="M174.8 636.4 L184.8 642.3 L176.7 647.8 Z" fill="#12a8f0"/>
<path d="M163.1 671.5h.01M168.9 670.4h.01M174.7 669.3h.01M180.5 668.3h.01M186.3 667.2h.01" stroke="#12a8f0" stroke-width="3.9" stroke-linecap="round" fill="none"/>
<path d="M151.3 673.7 L160.7 667.0 L162.5 676.6 Z" fill="#12a8f0"/>
<path d="M176.0 703.1h.01M181.6 701.2h.01M187.2 699.4h.01M192.8 697.5h.01M198.4 695.6h.01M204.0 693.8h.01M209.6 691.9h.01" stroke="#12a8f0" stroke-width="3.9" stroke-linecap="round" fill="none"/>
<path d="M164.6 706.9 L173.0 698.9 L176.1 708.2 Z" fill="#12a8f0"/>
<path d="M224.7 701.3h.01M221.9 696.2h.01" stroke="#dc1010" stroke-width="3.5" stroke-linecap="round" fill="none"/>
<path d="M229.6 710.0 L221.5 704.8 L229.4 700.4 Z" fill="#dc1010"/>
<path d="M277.2 726.4h.01M271.5 724.9h.01M265.8 723.3h.01M260.1 721.8h.01M254.4 720.2h.01M248.7 718.7h.01" stroke="#dc1010" stroke-width="3.5" stroke-linecap="round" fill="none"/>
<path d="M287.8 729.3 L277.5 731.2 L279.8 722.5 Z" fill="#dc1010"/>
<circle cx="675.3" cy="669.4" r="92.5" fill="#d9dbf4"/>
<circle cx="678.5" cy="627.3" r="9.9" fill="#f3f3fd"/>
<circle cx="678.5" cy="627.3" r="8.9" fill="#cbdd9c"/>
<circle cx="669.5" cy="699.0" r="9.9" fill="#f3f3fd"/>
<circle cx="669.5" cy="699.0" r="8.9" fill="#cbdd9c"/>
<circle cx="726.6" cy="695.9" r="9.9" fill="#f3f3fd"/>
<circle cx="726.6" cy="695.9" r="8.9" fill="#cbdd9c"/>
<circle cx="645.0" cy="602.0" r="9.9" fill="#f3f3fd"/>
<circle cx="645.0" cy="602.0" r="8.9" fill="url(#gg)"/>
<circle cx="725.3" cy="612.3" r="9.9" fill="#f3f3fd"/>
<circle cx="725.3" cy="612.3" r="8.9" fill="url(#gg)"/>
<circle cx="627.8" cy="652.2" r="9.9" fill="#f3f3fd"/>
<circle cx="627.8" cy="652.2" r="8.9" fill="url(#gg)"/>
<circle cx="748.7" cy="656.1" r="9.9" fill="#f3f3fd"/>
<circle cx="748.7" cy="656.1" r="8.9" fill="url(#gg)"/>
<circle cx="591.0" cy="667.6" r="9.9" fill="#f3f3fd"/>
<circle cx="591.0" cy="667.6" r="8.9" fill="url(#gg)"/>
<circle cx="709.3" cy="668.9" r="9.9" fill="#f3f3fd"/>
<circle cx="709.3" cy="668.9" r="8.9" fill="url(#gg)"/>
<circle cx="611.1" cy="712.7" r="9.9" fill="#f3f3fd"/>
<circle cx="611.1" cy="712.7" r="8.9" fill="url(#gg)"/>
<circle cx="653.5" cy="713.4" r="9.9" fill="#f3f3fd"/>
<circle cx="653.5" cy="713.4" r="8.9" fill="url(#gg)"/>
<circle cx="688.8" cy="742.2" r="9.9" fill="#f3f3fd"/>
<circle cx="688.8" cy="742.2" r="8.9" fill="url(#gg)"/>
<circle cx="722.2" cy="651.7" r="9.9" fill="#f3f3fd"/>
<circle cx="722.2" cy="651.7" r="8.9" fill="#ff0808"/>
<circle cx="636.3" cy="691.6" r="9.9" fill="#f3f3fd"/>
<circle cx="636.3" cy="691.6" r="8.9" fill="#ff0808"/>
<circle cx="676.9" cy="719.1" r="9.9" fill="#f3f3fd"/>
<circle cx="676.9" cy="719.1" r="8.9" fill="#ff0808"/>
<circle cx="672.6" cy="570.4" r="9.9" fill="#f3f3fd"/>
<circle cx="672.6" cy="570.4" r="8.5" fill="#838383" stroke="#6e6b66" stroke-width="0.9"/>
<circle cx="614.9" cy="584.0" r="9.9" fill="#f3f3fd"/>
<circle cx="614.9" cy="584.0" r="8.5" fill="#838383" stroke="#6e6b66" stroke-width="0.9"/>
<circle cx="708.1" cy="587.4" r="9.9" fill="#f3f3fd"/>
<circle cx="708.1" cy="587.4" r="8.5" fill="#838383" stroke="#6e6b66" stroke-width="0.9"/>
<circle cx="623.9" cy="610.5" r="9.9" fill="#f3f3fd"/>
<circle cx="623.9" cy="610.5" r="8.5" fill="#838383" stroke="#6e6b66" stroke-width="0.9"/>
<circle cx="701.6" cy="610.3" r="9.9" fill="#f3f3fd"/>
<circle cx="701.6" cy="610.3" r="8.5" fill="#838383" stroke="#6e6b66" stroke-width="0.9"/>
<circle cx="746.6" cy="629.8" r="9.9" fill="#f3f3fd"/>
<circle cx="746.6" cy="629.8" r="8.5" fill="#838383" stroke="#6e6b66" stroke-width="0.9"/>
<circle cx="600.0" cy="642.4" r="9.9" fill="#f3f3fd"/>
<circle cx="600.0" cy="642.4" r="8.5" fill="#838383" stroke="#6e6b66" stroke-width="0.9"/>
<circle cx="573.8" cy="683.8" r="9.9" fill="#f3f3fd"/>
<circle cx="573.8" cy="683.8" r="8.5" fill="#838383" stroke="#6e6b66" stroke-width="0.9"/>
<circle cx="748.7" cy="697.7" r="9.9" fill="#f3f3fd"/>
<circle cx="748.7" cy="697.7" r="8.5" fill="#838383" stroke="#6e6b66" stroke-width="0.9"/>
<circle cx="771.8" cy="729.9" r="9.9" fill="#f3f3fd"/>
<circle cx="771.8" cy="729.9" r="8.5" fill="#838383" stroke="#6e6b66" stroke-width="0.9"/>
<circle cx="711.1" cy="743.0" r="9.9" fill="#f3f3fd"/>
<circle cx="711.1" cy="743.0" r="8.5" fill="#838383" stroke="#6e6b66" stroke-width="0.9"/>
<circle cx="641.9" cy="774.4" r="9.9" fill="#f3f3fd"/>
<circle cx="641.9" cy="774.4" r="8.5" fill="#838383" stroke="#6e6b66" stroke-width="0.9"/>
<g opacity="1"><circle cx="675.3" cy="669.4" r="92.5" fill="none" stroke="#0c2150" stroke-width="2.8" stroke-dasharray="8.8 3.2"/>
<ellipse cx="670.0" cy="674.4" rx="68.3" ry="57.6" transform="rotate(4 670.0 674.4)" fill="none" stroke="#0e1a4c" stroke-width="2.8" stroke-dasharray="2.8 3.1"/></g>
<circle cx="668.2" cy="596.1" r="9.9" fill="#f3f3fd"/>
<circle cx="668.2" cy="596.1" r="8.9" fill="#000"/>
<circle cx="643.0" cy="629.8" r="9.9" fill="#f3f3fd"/>
<circle cx="643.0" cy="629.8" r="8.9" fill="#000"/>
<circle cx="725.3" cy="632.9" r="9.9" fill="#f3f3fd"/>
<circle cx="725.3" cy="632.9" r="8.9" fill="#000"/>
<circle cx="700.9" cy="641.9" r="9.9" fill="#f3f3fd"/>
<circle cx="700.9" cy="641.9" r="8.9" fill="#000"/>
<circle cx="672.8" cy="666.9" r="9.9" fill="#f3f3fd"/>
<circle cx="672.8" cy="666.9" r="8.9" fill="#000"/>
<circle cx="615.4" cy="673.6" r="9.9" fill="#f3f3fd"/>
<circle cx="615.4" cy="673.6" r="8.9" fill="#000"/>
<circle cx="727.9" cy="671.0" r="9.9" fill="#f3f3fd"/>
<circle cx="727.9" cy="671.0" r="8.9" fill="#000"/>
<circle cx="695.2" cy="689.5" r="9.9" fill="#f3f3fd"/>
<circle cx="695.2" cy="689.5" r="8.9" fill="#000"/>
<circle cx="633.5" cy="717.0" r="9.9" fill="#f3f3fd"/>
<circle cx="633.5" cy="717.0" r="8.9" fill="#000"/>
<circle cx="710.6" cy="717.0" r="9.9" fill="#f3f3fd"/>
<circle cx="710.6" cy="717.0" r="8.9" fill="#000"/>
<circle cx="599.2" cy="726.8" r="9.9" fill="#f3f3fd"/>
<circle cx="599.2" cy="726.8" r="8.9" fill="#000"/>
<circle cx="656.6" cy="741.0" r="9.9" fill="#f3f3fd"/>
<circle cx="656.6" cy="741.0" r="8.9" fill="#000"/>
<g opacity="0.3"><circle cx="675.3" cy="669.4" r="92.5" fill="none" stroke="#0c2150" stroke-width="2.8" stroke-dasharray="8.8 3.2"/>
<ellipse cx="670.0" cy="674.4" rx="68.3" ry="57.6" transform="rotate(4 670.0 674.4)" fill="none" stroke="#0e1a4c" stroke-width="2.8" stroke-dasharray="2.8 3.1"/></g>
<line x1="680.3" y1="645.2" x2="700.7" y2="558.1" stroke="#000" stroke-width="1.9"/>
<path d="M702.7 549.3 L704.1 559.9 L696.7 558.2 Z" fill="#000"/>
<line x1="715.7" y1="610.0" x2="743.6" y2="555.7" stroke="#000" stroke-width="1.9"/>
<path d="M747.7 547.7 L746.5 558.3 L739.8 554.9 Z" fill="#000"/>
<path d="M656.6 646.5h.01M659.9 651.4h.01M663.2 656.3h.01M666.5 661.1h.01M669.9 666.0h.01" stroke="#12a8f0" stroke-width="3.9" stroke-linecap="round" fill="none"/>
<path d="M649.8 636.6 L659.8 642.5 L651.7 648.0 Z" fill="#12a8f0"/>
<path d="M638.1 671.7h.01M643.9 670.6h.01M649.7 669.5h.01M655.5 668.5h.01M661.3 667.4h.01" stroke="#12a8f0" stroke-width="3.9" stroke-linecap="round" fill="none"/>
<path d="M626.3 673.9 L635.7 667.2 L637.5 676.8 Z" fill="#12a8f0"/>
<path d="M651.0 703.3h.01M656.6 701.4h.01M662.2 699.6h.01M667.8 697.7h.01M673.4 695.8h.01M679.0 694.0h.01M684.6 692.1h.01" stroke="#12a8f0" stroke-width="3.9" stroke-linecap="round" fill="none"/>
<path d="M639.6 707.1 L648.0 699.1 L651.1 708.4 Z" fill="#12a8f0"/>
<path d="M699.7 701.5h.01M696.9 696.4h.01" stroke="#dc1010" stroke-width="3.5" stroke-linecap="round" fill="none"/>
<path d="M704.6 710.2 L696.5 705.0 L704.4 700.6 Z" fill="#dc1010"/>
<path d="M752.2 726.6h.01M746.5 725.1h.01M740.8 723.5h.01M735.1 722.0h.01M729.4 720.4h.01M723.7 718.9h.01" stroke="#dc1010" stroke-width="3.5" stroke-linecap="round" fill="none"/>
<path d="M762.8 729.5 L752.5 731.4 L754.8 722.7 Z" fill="#dc1010"/>
<circle cx="1168.3" cy="634.9" r="92.3" fill="#d9dbf4"/>
<circle cx="1174.8" cy="593.1" r="9.9" fill="#f3f3fd"/>
<circle cx="1174.8" cy="593.1" r="8.9" fill="#cbdd9c"/>
<circle cx="1165.2" cy="665.3" r="9.9" fill="#f3f3fd"/>
<circle cx="1165.2" cy="665.3" r="8.9" fill="#cbdd9c"/>
<circle cx="1222.6" cy="661.5" r="9.9" fill="#f3f3fd"/>
<circle cx="1222.6" cy="661.5" r="8.9" fill="#cbdd9c"/>
<circle cx="1140.8" cy="567.8" r="9.9" fill="#f3f3fd"/>
<circle cx="1140.8" cy="567.8" r="8.9" fill="url(#gg)"/>
<circle cx="1221.3" cy="578.6" r="9.9" fill="#f3f3fd"/>
<circle cx="1221.3" cy="578.6" r="8.9" fill="url(#gg)"/>
<circle cx="1123.8" cy="618.0" r="9.9" fill="#f3f3fd"/>
<circle cx="1123.8" cy="618.0" r="8.9" fill="url(#gg)"/>
<circle cx="1244.7" cy="622.1" r="9.9" fill="#f3f3fd"/>
<circle cx="1244.7" cy="622.1" r="8.9" fill="url(#gg)"/>
<circle cx="1087.0" cy="633.7" r="9.9" fill="#f3f3fd"/>
<circle cx="1087.0" cy="633.7" r="8.9" fill="url(#gg)"/>
<circle cx="1205.1" cy="635.0" r="9.9" fill="#f3f3fd"/>
<circle cx="1205.1" cy="635.0" r="8.9" fill="url(#gg)"/>
<circle cx="1107.1" cy="678.7" r="9.9" fill="#f3f3fd"/>
<circle cx="1107.1" cy="678.7" r="8.9" fill="url(#gg)"/>
<circle cx="1149.3" cy="679.2" r="9.9" fill="#f3f3fd"/>
<circle cx="1149.3" cy="679.2" r="8.9" fill="url(#gg)"/>
<circle cx="1184.3" cy="708.6" r="9.9" fill="#f3f3fd"/>
<circle cx="1184.3" cy="708.6" r="8.9" fill="url(#gg)"/>
<circle cx="1218.0" cy="618.0" r="9.9" fill="#f3f3fd"/>
<circle cx="1218.0" cy="618.0" r="8.9" fill="#ff0808"/>
<circle cx="1131.8" cy="658.1" r="9.9" fill="#f3f3fd"/>
<circle cx="1131.8" cy="658.1" r="8.9" fill="#ff0808"/>
<circle cx="1172.7" cy="684.9" r="9.9" fill="#f3f3fd"/>
<circle cx="1172.7" cy="684.9" r="8.9" fill="#ff0808"/>
<circle cx="1138.7" cy="595.9" r="9.9" fill="#f3f3fd"/>
<circle cx="1138.7" cy="595.9" r="8.5" fill="#838383" stroke="#6e6b66" stroke-width="0.9"/>
<circle cx="1197.1" cy="608.0" r="9.9" fill="#f3f3fd"/>
<circle cx="1197.1" cy="608.0" r="8.5" fill="#838383" stroke="#6e6b66" stroke-width="0.9"/>
<circle cx="1168.1" cy="633.2" r="9.9" fill="#f3f3fd"/>
<circle cx="1168.1" cy="633.2" r="8.5" fill="#838383" stroke="#6e6b66" stroke-width="0.9"/>
<circle cx="1111.2" cy="638.8" r="9.9" fill="#f3f3fd"/>
<circle cx="1111.2" cy="638.8" r="8.5" fill="#838383" stroke="#6e6b66" stroke-width="0.9"/>
<circle cx="1223.6" cy="637.0" r="9.9" fill="#f3f3fd"/>
<circle cx="1223.6" cy="637.0" r="8.5" fill="#838383" stroke="#6e6b66" stroke-width="0.9"/>
<circle cx="1191.2" cy="655.8" r="9.9" fill="#f3f3fd"/>
<circle cx="1191.2" cy="655.8" r="8.5" fill="#838383" stroke="#6e6b66" stroke-width="0.9"/>
<circle cx="1128.5" cy="682.8" r="9.9" fill="#f3f3fd"/>
<circle cx="1128.5" cy="682.8" r="8.5" fill="#838383" stroke="#6e6b66" stroke-width="0.9"/>
<circle cx="1206.9" cy="684.6" r="9.9" fill="#f3f3fd"/>
<circle cx="1206.9" cy="684.6" r="8.5" fill="#838383" stroke="#6e6b66" stroke-width="0.9"/>
<g opacity="1"><circle cx="1168.3" cy="634.9" r="92.3" fill="none" stroke="#0c2150" stroke-width="2.8" stroke-dasharray="8.8 3.2"/>
<ellipse cx="1164.7" cy="639.5" rx="68.3" ry="57.6" transform="rotate(4 1164.7 639.5)" fill="none" stroke="#0e1a4c" stroke-width="2.8" stroke-dasharray="2.8 3.1"/></g>
<circle cx="1168.6" cy="536.2" r="9.9" fill="#f3f3fd"/>
<circle cx="1168.6" cy="536.2" r="8.9" fill="#000"/>
<circle cx="1110.7" cy="550.1" r="9.9" fill="#f3f3fd"/>
<circle cx="1110.7" cy="550.1" r="8.9" fill="#000"/>
<circle cx="1203.8" cy="553.4" r="9.9" fill="#f3f3fd"/>
<circle cx="1203.8" cy="553.4" r="8.9" fill="#000"/>
<circle cx="1164.0" cy="561.9" r="9.9" fill="#f3f3fd"/>
<circle cx="1164.0" cy="561.9" r="8.9" fill="#000"/>
<circle cx="1118.2" cy="577.1" r="9.9" fill="#f3f3fd"/>
<circle cx="1118.2" cy="577.1" r="8.9" fill="#000"/>
<circle cx="1197.7" cy="576.6" r="9.9" fill="#f3f3fd"/>
<circle cx="1197.7" cy="576.6" r="8.9" fill="#000"/>
<circle cx="1221.8" cy="599.0" r="9.9" fill="#f3f3fd"/>
<circle cx="1221.8" cy="599.0" r="8.9" fill="#000"/>
<circle cx="1242.9" cy="595.9" r="9.9" fill="#f3f3fd"/>
<circle cx="1242.9" cy="595.9" r="8.9" fill="#000"/>
<circle cx="1095.5" cy="608.7" r="9.9" fill="#f3f3fd"/>
<circle cx="1095.5" cy="608.7" r="8.9" fill="#000"/>
<circle cx="1069.8" cy="650.2" r="9.9" fill="#f3f3fd"/>
<circle cx="1069.8" cy="650.2" r="8.9" fill="#000"/>
<circle cx="1248.6" cy="658.9" r="9.9" fill="#f3f3fd"/>
<circle cx="1248.6" cy="658.9" r="8.9" fill="#000"/>
<circle cx="1095.0" cy="692.9" r="9.9" fill="#f3f3fd"/>
<circle cx="1095.0" cy="692.9" r="8.9" fill="#000"/>
<circle cx="1152.4" cy="706.8" r="9.9" fill="#f3f3fd"/>
<circle cx="1152.4" cy="706.8" r="8.9" fill="#000"/>
<circle cx="1207.2" cy="709.1" r="9.9" fill="#f3f3fd"/>
<circle cx="1207.2" cy="709.1" r="8.9" fill="#000"/>
<circle cx="1143.6" cy="748.9" r="9.9" fill="#f3f3fd"/>
<circle cx="1143.6" cy="748.9" r="8.9" fill="#000"/>
<circle cx="1253.2" cy="706.5" r="9.9" fill="#f3f3fd"/>
<circle cx="1253.2" cy="706.5" r="8.9" fill="#000"/>
<g opacity="0.3"><circle cx="1168.3" cy="634.9" r="92.3" fill="none" stroke="#0c2150" stroke-width="2.8" stroke-dasharray="8.8 3.2"/>
<ellipse cx="1164.7" cy="639.5" rx="68.3" ry="57.6" transform="rotate(4 1164.7 639.5)" fill="none" stroke="#0e1a4c" stroke-width="2.8" stroke-dasharray="2.8 3.1"/></g>
<path d="M1148.7 610.1h.01M1152.1 614.9h.01M1155.5 619.7h.01M1159.0 624.5h.01M1162.4 629.4h.01M1165.8 634.2h.01" stroke="#12a8f0" stroke-width="3.9" stroke-linecap="round" fill="none"/>
<path d="M1141.8 600.3 L1151.9 606.0 L1143.9 611.7 Z" fill="#12a8f0"/>
<path d="M1123.8 568.8h.01M1126.9 573.8h.01M1130.0 578.8h.01M1133.2 583.8h.01" stroke="#12a8f0" stroke-width="3.9" stroke-linecap="round" fill="none"/>
<path d="M1117.4 558.6 L1127.1 564.9 L1118.8 570.1 Z" fill="#12a8f0"/>
<path d="M1193.6 629.3h.01M1192.1 635.0h.01M1190.6 640.7h.01M1189.1 646.4h.01" stroke="#12a8f0" stroke-width="3.9" stroke-linecap="round" fill="none"/>
<path d="M1196.6 617.7 L1198.7 629.1 L1189.2 626.6 Z" fill="#12a8f0"/>
<path d="M1217.0 602.1h.01M1211.3 603.2h.01M1205.5 604.4h.01M1199.7 605.6h.01" stroke="#12a8f0" stroke-width="3.9" stroke-linecap="round" fill="none"/>
<path d="M1228.8 599.7 L1219.5 606.6 L1217.5 597.0 Z" fill="#12a8f0"/>
<path d="M145.0 542.3C146.7 542.4 151.8 541.9 155.0 543.0C158.2 544.1 161.0 547.2 164.0 549.0C167.0 550.8 170.5 552.6 173.0 553.5C175.5 554.4 177.8 554.0 178.7 554.1" fill="none" stroke="#2f76da" stroke-width="1.5"/>
<path d="M186.7 555.0 L177.3 558.0 L178.2 550.0 Z" fill="#2f76da"/>
<path d="M88.3 608.5C89.8 608.3 94.5 608.3 97.0 607.5C99.5 606.7 102.0 605.2 103.5 603.5C105.0 601.8 105.2 599.0 106.0 597.0C106.8 595.0 107.1 593.0 108.3 591.5C109.5 590.0 111.7 588.7 113.0 588.0C114.3 587.3 115.3 587.4 115.8 587.3" fill="none" stroke="#2f76da" stroke-width="1.5"/>
<path d="M123.6 585.5 L115.8 591.5 L113.9 583.7 Z" fill="#2f76da"/>
<path d="M253.3 783.3C253.8 781.4 253.9 774.9 256.0 772.0C258.1 769.1 262.5 768.0 266.0 766.0C269.5 764.0 274.0 762.7 277.0 760.0C280.0 757.3 282.7 751.6 283.8 749.9" fill="none" stroke="#2f76da" stroke-width="1.5"/>
<path d="M288.3 743.3 L286.6 753.0 L279.9 748.5 Z" fill="#2f76da"/>
<path d="M620.0 542.3C621.7 542.4 626.8 541.9 630.0 543.0C633.2 544.1 636.0 547.2 639.0 549.0C642.0 550.8 645.5 552.6 648.0 553.5C650.5 554.4 652.8 554.0 653.7 554.1" fill="none" stroke="#2f76da" stroke-width="1.5"/>
<path d="M661.7 555.0 L652.3 558.0 L653.2 550.0 Z" fill="#2f76da"/>
<path d="M563.3 608.5C564.8 608.3 569.5 608.3 572.0 607.5C574.5 606.7 577.0 605.2 578.5 603.5C580.0 601.8 580.2 599.0 581.0 597.0C581.8 595.0 582.1 593.0 583.3 591.5C584.5 590.0 586.7 588.7 588.0 588.0C589.3 587.3 590.3 587.4 590.8 587.3" fill="none" stroke="#2f76da" stroke-width="1.5"/>
<path d="M598.6 585.5 L590.8 591.5 L588.9 583.7 Z" fill="#2f76da"/>
<path d="M728.3 783.3C728.8 781.4 728.9 774.9 731.0 772.0C733.1 769.1 737.5 768.0 741.0 766.0C744.5 764.0 749.0 762.7 752.0 760.0C755.0 757.3 757.7 751.6 758.8 749.9" fill="none" stroke="#2f76da" stroke-width="1.5"/>
<path d="M763.3 743.3 L761.6 753.0 L754.9 748.5 Z" fill="#2f76da"/>
<path d="M49.3 682.7C50.9 682.9 56.2 682.8 59.0 684.0C61.8 685.2 63.7 688.2 66.0 690.0C68.3 691.8 71.4 694.1 73.0 695.0C74.6 695.9 74.9 695.2 75.3 695.2" fill="none" stroke="#2f76da" stroke-width="1.5"/>
<path d="M83.3 696.0 L74.0 699.1 L74.7 691.1 Z" fill="#2f76da"/>
<path d="M303.3 711.0C305.8 710.8 313.6 710.8 318.0 709.5C322.4 708.2 326.8 706.2 330.0 703.0C333.2 699.8 334.3 693.0 337.0 690.0C339.7 687.0 342.9 686.1 346.0 685.0C349.1 683.9 353.9 683.5 355.4 683.2" fill="none" stroke="#2f76da" stroke-width="1.5"/>
<path d="M363.3 681.7 L355.2 687.3 L353.7 679.5 Z" fill="#2f76da"/>
<path d="M524.0 683.0C525.7 683.2 531.2 682.8 534.0 684.0C536.8 685.2 538.7 688.2 541.0 690.0C543.3 691.8 546.3 694.1 548.0 695.0C549.7 695.9 550.5 695.2 551.0 695.3" fill="none" stroke="#2f76da" stroke-width="1.5"/>
<path d="M559.0 696.0 L549.7 699.2 L550.4 691.2 Z" fill="#2f76da"/>
<path d="M569.0 664.0C567.2 663.5 560.8 662.7 558.0 661.0C555.2 659.3 554.0 656.2 552.0 654.0C550.0 651.8 547.7 649.1 546.0 648.0C544.3 646.9 542.5 647.3 541.8 647.1" fill="none" stroke="#2f76da" stroke-width="1.5"/>
<path d="M534.0 645.5 L543.6 643.4 L542.0 651.3 Z" fill="#2f76da"/>
<path d="M777.5 710.5C780.4 710.9 789.9 711.1 795.0 713.0C800.1 714.9 804.5 718.0 808.0 722.0C811.5 726.0 812.7 733.3 816.0 737.0C819.3 740.7 823.8 742.4 828.0 744.0C832.2 745.6 839.0 746.1 841.1 746.5" fill="none" stroke="#2f76da" stroke-width="1.5"/>
<path d="M849.0 748.0 L839.4 750.2 L840.9 742.4 Z" fill="#2f76da"/>
<text x="95.5" y="546.4" font-family='"Liberation Sans","Noto Sans CJK SC",sans-serif' font-size="19.5" font-weight="bold" fill="#000" stroke="#000" stroke-width="0.25" text-anchor="start" textLength="43.0" lengthAdjust="spacingAndGlyphs">Heat</text>
<text x="45.5" y="611.4" font-family='"Liberation Sans","Noto Sans CJK SC",sans-serif' font-size="19.5" font-weight="bold" fill="#000" stroke="#000" stroke-width="0.25" text-anchor="start" textLength="43.0" lengthAdjust="spacingAndGlyphs">Heat</text>
<text x="213.0" y="535.4" font-family='"Liberation Sans","Noto Sans CJK SC",sans-serif' font-size="19.5" font-weight="bold" fill="#000" stroke="#000" stroke-width="0.25" text-anchor="start" textLength="38.5" lengthAdjust="spacingAndGlyphs">Bulk</text>
<text x="260.5" y="539.9" font-family='"Liberation Sans","Noto Sans CJK SC",sans-serif' font-size="19.5" font-weight="bold" fill="#000" stroke="#000" stroke-width="0.25" text-anchor="start" textLength="70.0" lengthAdjust="spacingAndGlyphs">Surface</text>
<text x="46.0" y="719.9" font-family='"Liberation Sans","Noto Sans CJK SC",sans-serif' font-size="19.5" font-weight="bold" fill="#000" stroke="#000" stroke-width="0.25" text-anchor="start" textLength="37.5" lengthAdjust="spacingAndGlyphs">Fuel</text>
<text x="348.0" y="707.9" font-family='"Liberation Sans","Noto Sans CJK SC",sans-serif' font-size="19.5" font-weight="bold" fill="#000" stroke="#000" stroke-width="0.25" text-anchor="start" textLength="38.0" lengthAdjust="spacingAndGlyphs">COx</text>
<text x="224.0" y="804.9" font-family='"Liberation Sans","Noto Sans CJK SC",sans-serif' font-size="19.5" font-weight="bold" fill="#000" stroke="#000" stroke-width="0.25" text-anchor="start" textLength="37.5" lengthAdjust="spacingAndGlyphs">Fuel</text>
<text x="570.5" y="546.4" font-family='"Liberation Sans","Noto Sans CJK SC",sans-serif' font-size="19.5" font-weight="bold" fill="#000" stroke="#000" stroke-width="0.25" text-anchor="start" textLength="43.0" lengthAdjust="spacingAndGlyphs">Heat</text>
<text x="520.0" y="612.4" font-family='"Liberation Sans","Noto Sans CJK SC",sans-serif' font-size="19.5" font-weight="bold" fill="#000" stroke="#000" stroke-width="0.25" text-anchor="start" textLength="43.0" lengthAdjust="spacingAndGlyphs">Heat</text>
<text x="687.0" y="535.4" font-family='"Liberation Sans","Noto Sans CJK SC",sans-serif' font-size="19.5" font-weight="bold" fill="#000" stroke="#000" stroke-width="0.25" text-anchor="start" textLength="39.5" lengthAdjust="spacingAndGlyphs">Bulk</text>
<text x="735.0" y="540.4" font-family='"Liberation Sans","Noto Sans CJK SC",sans-serif' font-size="19.5" font-weight="bold" fill="#000" stroke="#000" stroke-width="0.25" text-anchor="start" textLength="70.0" lengthAdjust="spacingAndGlyphs">Surface</text>
<text x="520.5" y="720.9" font-family='"Liberation Sans","Noto Sans CJK SC",sans-serif' font-size="19.5" font-weight="bold" fill="#000" stroke="#000" stroke-width="0.25" text-anchor="start" textLength="37.5" lengthAdjust="spacingAndGlyphs">Fuel</text>
<text x="493.0" y="651.9" font-family='"Liberation Sans","Noto Sans CJK SC",sans-serif' font-size="19.5" font-weight="bold" fill="#000" stroke="#000" stroke-width="0.25" text-anchor="start" textLength="38.0" lengthAdjust="spacingAndGlyphs">COx</text>
<text x="698.5" y="805.9" font-family='"Liberation Sans","Noto Sans CJK SC",sans-serif' font-size="19.5" font-weight="bold" fill="#000" stroke="#000" stroke-width="0.25" text-anchor="start" textLength="37.5" lengthAdjust="spacingAndGlyphs">Fuel</text>
<text x="835.5" y="775.9" font-family='"Liberation Sans","Noto Sans CJK SC",sans-serif' font-size="19.5" font-weight="bold" fill="#000" stroke="#000" stroke-width="0.25" text-anchor="start" textLength="38.0" lengthAdjust="spacingAndGlyphs">COx</text>
<text x="333.0" y="623.4" font-family='"Liberation Sans","Noto Sans CJK SC",sans-serif' font-size="19.5" font-weight="bold" fill="#000" stroke="#000" stroke-width="0.25" text-anchor="start" textLength="147.0" lengthAdjust="spacingAndGlyphs">Surface Oxygen</text>
<text x="333.0" y="645.4" font-family='"Liberation Sans","Noto Sans CJK SC",sans-serif' font-size="19.5" font-weight="bold" fill="#000" stroke="#000" stroke-width="0.25" text-anchor="start" textLength="119.0" lengthAdjust="spacingAndGlyphs">is Consumed</text>
<text x="924.5" y="584.9" font-family='"Liberation Sans","Noto Sans CJK SC",sans-serif' font-size="19.3" font-weight="bold" fill="#e00a10" stroke="#e00a10" stroke-width="0.25" text-anchor="middle" textLength="274.0" lengthAdjust="spacingAndGlyphs">Bulk lattice oxygen migration</text>
<text x="924.5" y="607.4" font-family='"Liberation Sans","Noto Sans CJK SC",sans-serif' font-size="19.3" font-weight="bold" fill="#e00a10" stroke="#e00a10" stroke-width="0.25" text-anchor="middle" textLength="255.0" lengthAdjust="spacingAndGlyphs">replenishes surface oxygen</text>
<text x="927.5" y="629.4" font-family='"Liberation Sans","Noto Sans CJK SC",sans-serif' font-size="19.3" font-weight="bold" fill="#e00a10" stroke="#e00a10" stroke-width="0.25" text-anchor="middle" textLength="87.0" lengthAdjust="spacingAndGlyphs">vacancies</text>
<text x="931.5" y="677.4" font-family='"Liberation Sans","Noto Sans CJK SC",sans-serif' font-size="17.5" font-weight="bold" fill="#000" stroke="#000" stroke-width="0.25" text-anchor="middle" textLength="211.0" lengthAdjust="spacingAndGlyphs">Oxygen-enriched layer</text>
<line x1="325.0" y1="655.0" x2="452.5" y2="655.0" stroke="#b6d2f3" stroke-width="5.4" stroke-dasharray="6.2 6.2"/>
<path d="M470.5 655.0 L452.5 646.2 L452.5 663.8 Z" fill="url(#ag)"/>
<line x1="797.0" y1="645.5" x2="1029.5" y2="645.5" stroke="#b6d2f3" stroke-width="5.4" stroke-dasharray="6.2 6.2"/>
<path d="M1047.5 645.5 L1029.5 636.7 L1029.5 654.3 Z" fill="url(#ag)"/>
<circle cx="242.5" cy="881.6" r="8.7" fill="url(#gg)"/>
<path d="M264.9 881.6h9.2M281.2 881.6h1.6M289.9 881.6h9.2M305.1 881.6h4" stroke="#000" stroke-width="1.9" fill="none"/>
<path d="M316.1 881.6 L307.1 877.6 L307.1 885.6 Z" fill="#000"/>
<text font-family='"Liberation Sans","Noto Sans CJK SC",sans-serif' font-weight="bold" stroke="#000" stroke-width="0.25"><tspan x="324.4" y="889.6" font-size="18.8" textLength="15" lengthAdjust="spacingAndGlyphs">M</tspan><tspan x="342.9" y="894.0" font-size="12.6" textLength="14.3" lengthAdjust="spacingAndGlyphs">e1</tspan><tspan x="358.6" y="884.8" font-size="12.6" textLength="14.2" lengthAdjust="spacingAndGlyphs">3+</tspan></text>
<circle cx="240.4" cy="921.0" r="8.7" fill="#cbdd9c"/>
<path d="M264.9 920.6h9.2M281.2 920.6h1.6M289.9 920.6h9.2M305.1 920.6h4" stroke="#000" stroke-width="1.9" fill="none"/>
<path d="M316.1 920.6 L307.1 916.6 L307.1 924.6 Z" fill="#000"/>
<text font-family='"Liberation Sans","Noto Sans CJK SC",sans-serif' font-weight="bold" stroke="#000" stroke-width="0.25"><tspan x="324.4" y="926.5" font-size="18.8" textLength="15" lengthAdjust="spacingAndGlyphs">M</tspan><tspan x="342.9" y="930.9" font-size="12.6" textLength="14.3" lengthAdjust="spacingAndGlyphs">e1</tspan><tspan x="358.6" y="921.7" font-size="12.6" textLength="14.2" lengthAdjust="spacingAndGlyphs">2+</tspan></text>
<circle cx="458.9" cy="880.3" r="8.7" fill="#ff0808"/>
<path d="M482.1 880.3h9.2M498.4 880.3h1.6M507.1 880.3h9.2M522.3 880.3h4" stroke="#000" stroke-width="1.9" fill="none"/>
<path d="M533.3 880.3 L524.3 876.3 L524.3 884.3 Z" fill="#000"/>
<text font-family='"Liberation Sans","Noto Sans CJK SC",sans-serif' font-weight="bold" stroke="#000" stroke-width="0.25"><tspan x="540.1" y="883.1" font-size="18.8" textLength="15" lengthAdjust="spacingAndGlyphs">M</tspan><tspan x="558.9" y="887.5" font-size="12.6" textLength="14.3" lengthAdjust="spacingAndGlyphs">e2</tspan><tspan x="575.0" y="878.3" font-size="12.6" textLength="14.2" lengthAdjust="spacingAndGlyphs">3+</tspan></text>
<circle cx="460.0" cy="921.9" r="8.7" fill="#000"/>
<path d="M477.0 921.0h9.2M493.3 921.0h1.6M502.0 921.0h9.2M517.4 921.0h4" stroke="#000" stroke-width="1.9" fill="none"/>
<path d="M528.4 921.0 L519.4 917.0 L519.4 925.0 Z" fill="#000"/>
<text x="539.0" y="929.3" font-family='"Liberation Sans","Noto Sans CJK SC",sans-serif' font-size="19.4" font-weight="bold" fill="#000" stroke="#000" stroke-width="0.25" text-anchor="start" textLength="137.5" lengthAdjust="spacingAndGlyphs">Lattice Oxygen</text>
<circle cx="753.5" cy="884.6" r="8.5" fill="#838383" stroke="#6e6b66" stroke-width="0.9"/>
<path d="M769.5 885.0h9.2M785.8 885.0h1.6M794.5 885.0h9.2M810.5 885.0h4" stroke="#000" stroke-width="1.9" fill="none"/>
<path d="M821.5 885.0 L812.5 881.0 L812.5 889.0 Z" fill="#000"/>
<text x="833.3" y="892.5" font-family='"Liberation Sans","Noto Sans CJK SC",sans-serif' font-size="19.4" font-weight="bold" fill="#000" stroke="#000" stroke-width="0.25" text-anchor="start" textLength="151.4" lengthAdjust="spacingAndGlyphs">Oxygen Vacancy</text>
<circle cx="751.8" cy="925.6" r="8.5" fill="#ff9696" stroke="#f58686" stroke-width="0.8"/>
<path d="M774.7 925.5h9.2M791.0 925.5h1.6M799.7 925.5h9.2M815.7 925.5h4" stroke="#000" stroke-width="1.9" fill="none"/>
<path d="M826.7 925.5 L817.7 921.5 L817.7 929.5 Z" fill="#000"/>
<text font-family='"Liberation Sans","Noto Sans CJK SC",sans-serif' font-weight="bold" stroke="#000" stroke-width="0.25"><tspan x="833.4" y="927.6" font-size="18.8" textLength="15" lengthAdjust="spacingAndGlyphs">M</tspan><tspan x="852.7" y="932.0" font-size="12.6" textLength="14.3" lengthAdjust="spacingAndGlyphs">e2</tspan><tspan x="868.7" y="922.8" font-size="12.6" textLength="14.2" lengthAdjust="spacingAndGlyphs">2+</tspan></text>
<text font-family='"Liberation Sans","Noto Sans CJK SC",sans-serif' font-weight="bold" stroke="#000" stroke-width="0.25"><tspan x="1046.8" y="898" font-size="19" textLength="17.5" lengthAdjust="spacingAndGlyphs">M</tspan><tspan x="1065.3" y="901.8" font-size="12.6">e</tspan><tspan x="1130.2" y="898" font-size="19" textLength="52.2" lengthAdjust="spacingAndGlyphs">Metal</tspan></text>
<text x="1073.6" y="898" font-family='"Liberation Sans","Noto Sans CJK SC",sans-serif' font-size="18.6" textLength="55" lengthAdjust="spacingAndGlyphs">--------</text>
</g>
</svg></body></html>
